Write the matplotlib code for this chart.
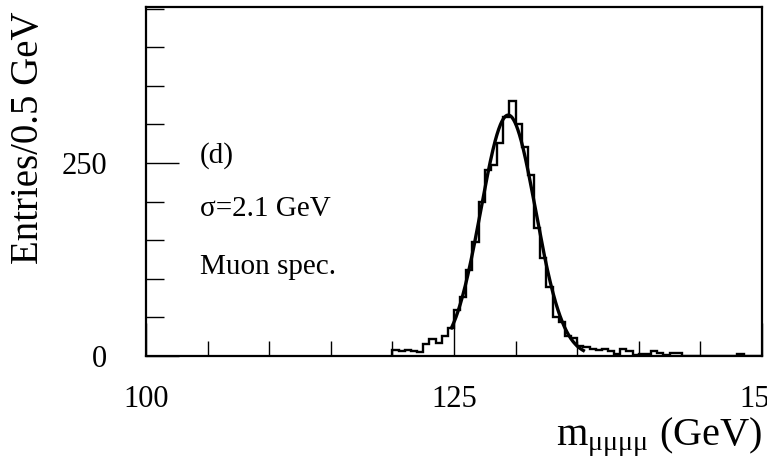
import numpy as np
import matplotlib
matplotlib.use('Agg')
import matplotlib.pyplot as plt

plt.rcParams['font.family'] = ['Liberation Serif', 'DejaVu Serif']
plt.rcParams['mathtext.fontset'] = 'custom'
plt.rcParams['mathtext.rm'] = 'Liberation Serif'
plt.rcParams['mathtext.it'] = 'Liberation Serif:italic'

# histogram: 0.5 GeV bins from 120 to 150
bin_lo = 120.0
bin_w = 0.5
counts = [8, 6, 8, 7, 5, 16, 22, 17, 26, 36,
          60, 77, 111, 148, 200, 241, 248, 276, 310, 330,
          300, 271, 235, 166, 127, 90, 51, 44, 26, 23,
          13, 12, 9, 8, 9, 7, 3, 9, 7, 1,
          3, 2, 6, 4, 1, 4, 4, 0, 0, 0,
          0, 0, 0, 0, 0, 0, 3, 0, 0, 0]

# gaussian fit curve as drawn
fit_amp = 312.0
fit_mean = 129.4
fit_sigma = 2.22
fit_range = (124.8, 135.5)

xticks_major = [100, 125, 150]
yticks_major = [0, 250]

edges = bin_lo + bin_w * np.arange(len(counts) + 1)

fig = plt.figure(figsize=(7.67, 4.68), dpi=100)
ax = fig.add_axes([0.1903, 0.2393, 0.8032, 0.7457])

ax.stairs(counts, edges, color='black', lw=1.7)

xf = np.linspace(fit_range[0], fit_range[1], 300)
yf = fit_amp * np.exp(-0.5 * ((xf - fit_mean) / fit_sigma) ** 2)
ax.plot(xf, yf, color='black', lw=2.4)

ax.set_xlim(100, 150)
ax.set_ylim(0, 452)

ax.set_xticks(xticks_major)
ax.set_xticks(np.arange(100, 151, 5), minor=True)
ax.set_yticks(yticks_major)
ax.set_yticks(np.arange(0, 451, 50), minor=True)
ax.set_xticklabels([str(v) for v in xticks_major])
ax.set_yticklabels([str(v) for v in yticks_major])

ax.tick_params(which='both', direction='in', top=False, right=False, width=1.0, labelsize=22)
ax.tick_params(axis='both', which='major', length=23.8)
ax.tick_params(axis='x', which='minor', length=10.8)
ax.tick_params(axis='y', which='minor', length=13.0)
ax.tick_params(axis='x', which='major', pad=21)
ax.tick_params(axis='y', which='major', pad=28)

for s in ax.spines.values():
    s.set_linewidth(1.6)

ax.set_ylabel('Entries/0.5 GeV', fontsize=28)
ax.yaxis.set_label_coords(-0.16, 0.625)
ax.set_xlabel(r'm$_{\mathrm{\mu\mu\mu\mu}}$ (GeV)', fontsize=29, ha='right')
ax.xaxis.set_label_coords(1.0, -0.17)

ax.text(0.087, 0.575, '(d)', transform=ax.transAxes, fontsize=21, va='center')
ax.text(0.087, 0.42, 'σ=2.1 GeV', transform=ax.transAxes, fontsize=21, va='center')
ax.text(0.087, 0.255, 'Muon spec.', transform=ax.transAxes, fontsize=21, va='center')

fig.savefig('out.png', dpi=100)
